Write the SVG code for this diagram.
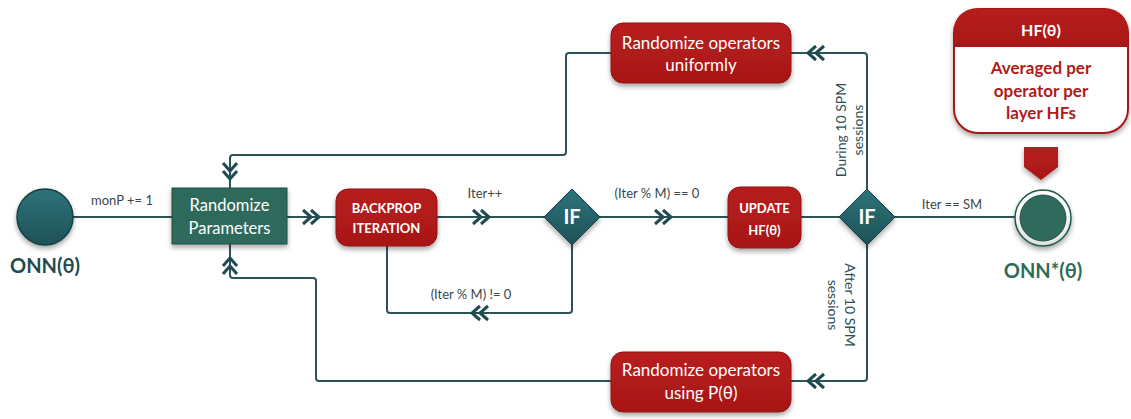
<svg xmlns="http://www.w3.org/2000/svg" xmlns:xlink="http://www.w3.org/1999/xlink" width="1131" height="419" viewBox="0 0 1131 419">
<defs>
  <filter id="sh" x="-20%" y="-20%" width="140%" height="160%">
    <feDropShadow dx="0" dy="3" stdDeviation="2.5" flood-color="#000" flood-opacity="0.35"/>
  </filter>
  <linearGradient id="gRed" x1="0" y1="0" x2="0" y2="1">
    <stop offset="0" stop-color="#b81c1c"/>
    <stop offset="1" stop-color="#a81818"/>
  </linearGradient>
  <linearGradient id="gTeal" x1="0" y1="0" x2="0" y2="1">
    <stop offset="0" stop-color="#2d7479"/>
    <stop offset="1" stop-color="#1e5157"/>
  </linearGradient>
  <radialGradient id="gRing" cx="0.5" cy="0.4" r="0.6">
    <stop offset="0.7" stop-color="#ffffff"/>
    <stop offset="1" stop-color="#d8d8d8"/>
  </radialGradient>
  <path id="chev" d="M-8,-7 L0,0 L-8,7 M0,-7 L8,0 L0,7"/>
  <style>
    .ln{fill:none;stroke:#2b5458;stroke-width:2;stroke-linejoin:round}
    .ch{fill:none;stroke:#1f4a4f;stroke-width:3}
    .lbl{font-family:Lato,"Liberation Sans",sans-serif;font-size:13px;fill:#37474c}
    .rot{font-family:Lato,"Liberation Sans",sans-serif;font-size:14px;fill:#2f4f54}
    .redbox{fill:url(#gRed);stroke:#8e1414;stroke-width:1}
    .wt{font-family:Lato,"Liberation Sans",sans-serif;fill:#ffffff;text-anchor:middle}
    .bold{font-weight:bold}
  </style>
</defs>
<rect width="1131" height="419" fill="#ffffff"/>

<g id="connectors">
  <path class="ln" d="M73,217 H172"/>
  <path class="ln" d="M287,217 H336"/>
  <path class="ln" d="M437,217 H544"/>
  <path class="ln" d="M600,217 H728"/>
  <path class="ln" d="M801,217 H840"/>
  <path class="ln" d="M894,217 H1015"/>
  <path class="ln" d="M572,245 V310 Q572,313 569,313 H390 Q387,313 387,310 V246"/>
  <path class="ln" d="M867,190 V56 Q867,53 864,53 H791"/>
  <path class="ln" d="M867,244 V378 Q867,381 864,381 H791"/>
  <path class="ln" d="M611,53 H569 Q566,53 566,56 V152 Q566,155 563,155 H233 Q230,155 230,158 V188"/>
  <path class="ln" d="M611,381 H319 Q316,381 316,378 V281 Q316,278 313,278 H233 Q230,278 230,275 V244"/>
  <use href="#chev" class="ch" transform="translate(311,217)"/>
  <use href="#chev" class="ch" transform="translate(481,217)"/>
  <use href="#chev" class="ch" transform="translate(663,217)"/>
  <use href="#chev" class="ch" transform="translate(480,313) rotate(180)"/>
  <use href="#chev" class="ch" transform="translate(816,53) rotate(180)"/>
  <use href="#chev" class="ch" transform="translate(816,381) rotate(180)"/>
  <use href="#chev" class="ch" transform="translate(230,171) rotate(90)"/>
  <use href="#chev" class="ch" transform="translate(230,266) rotate(-90)"/>
  <text class="lbl" x="122" y="205" text-anchor="middle">monP += 1</text>
  <text class="lbl" x="485" y="198" text-anchor="middle">Iter++</text>
  <text class="lbl" x="657" y="198" text-anchor="middle">(Iter % M) == 0</text>
  <text class="lbl" x="471" y="299" text-anchor="middle">(Iter % M) != 0</text>
  <text class="lbl" x="952" y="209" text-anchor="middle">Iter == SM</text>
  <text class="rot" x="846" y="130" text-anchor="middle" transform="rotate(-90 846 130)">During 10 SPM</text>
  <text class="rot" x="863" y="130" text-anchor="middle" transform="rotate(-90 863 130)">sessions</text>
  <text class="rot" x="845" y="305" text-anchor="middle" transform="rotate(90 845 305)">After 10 SPM</text>
  <text class="rot" x="828" y="305" text-anchor="middle" transform="rotate(90 828 305)">sessions</text>
</g>

<g id="start">
  <circle cx="45" cy="217" r="28" fill="url(#gTeal)" stroke="#173f44" stroke-width="1.5" filter="url(#sh)"/>
  <text x="45" y="273" text-anchor="middle" font-family="Lato,'Liberation Sans',sans-serif" font-weight="bold" font-size="20" fill="#1f4a4f">ONN(θ)</text>
</g>

<g id="randomize-parameters">
  <rect x="172" y="188" width="115" height="56" fill="#2f6a5c" stroke="#234f45" stroke-width="1" filter="url(#sh)"/>
  <text class="wt" x="229.5" y="211" font-size="16.5">Randomize</text>
  <text class="wt" x="229.5" y="234" font-size="16.5">Parameters</text>
</g>

<g id="backprop">
  <rect x="336" y="189" width="101" height="57" rx="12" class="redbox" filter="url(#sh)"/>
  <text class="wt bold" x="386.5" y="213" font-size="13">BACKPROP</text>
  <text class="wt bold" x="386.5" y="233" font-size="13">ITERATION</text>
</g>

<g id="if1">
  <polygon points="572,189 600,217 572,245 544,217" fill="url(#gTeal)" stroke="#173f44" stroke-width="1" filter="url(#sh)"/>
  <text class="wt bold" x="572" y="224" font-size="20">IF</text>
</g>

<g id="update">
  <rect x="728" y="187" width="73" height="61" rx="12" class="redbox" filter="url(#sh)"/>
  <text class="wt bold" x="764.5" y="213" font-size="13">UPDATE</text>
  <text class="wt bold" x="764.5" y="235" font-size="13">HF(θ)</text>
</g>

<g id="if2">
  <polygon points="867,189 895,217 867,245 839,217" fill="url(#gTeal)" stroke="#173f44" stroke-width="1" filter="url(#sh)"/>
  <text class="wt bold" x="867" y="224" font-size="20">IF</text>
</g>

<g id="rand-uniform">
  <rect x="611" y="23" width="180" height="60" rx="12" class="redbox" filter="url(#sh)"/>
  <text class="wt" x="701" y="49" font-size="17">Randomize operators</text>
  <text class="wt" x="701" y="71" font-size="17">uniformly</text>
</g>

<g id="rand-p">
  <rect x="611" y="352" width="180" height="60" rx="12" class="redbox" filter="url(#sh)"/>
  <text class="wt" x="701" y="376" font-size="17">Randomize operators</text>
  <text class="wt" x="701" y="399" font-size="17">using P(θ)</text>
</g>

<g id="end">
  <circle cx="1043" cy="218" r="28" fill="url(#gRing)" stroke="#1f5a4c" stroke-width="1.5" filter="url(#sh)"/>
  <circle cx="1043" cy="218" r="23" fill="#2f6a5c" stroke="#234f45" stroke-width="1"/>
  <text x="1043" y="278" text-anchor="middle" font-family="Lato,'Liberation Sans',sans-serif" font-weight="bold" font-size="20" fill="#2f6a5c">ONN*(θ)</text>
</g>

<g id="hf-callout">
  <rect x="954" y="9" width="174" height="124" rx="24" fill="#ffffff" stroke="#a81818" stroke-width="2" filter="url(#sh)"/>
  <path d="M954,47 V33 Q954,9 978,9 H1104 Q1128,9 1128,33 V47 Z" fill="url(#gRed)"/>
  <text class="wt bold" x="1041" y="36" font-size="16">HF(θ)</text>
  <text x="1041" y="74" text-anchor="middle" font-family="Lato,'Liberation Sans',sans-serif" font-weight="bold" font-size="17" fill="#b01a1a">Averaged per</text>
  <text x="1041" y="97" text-anchor="middle" font-family="Lato,'Liberation Sans',sans-serif" font-weight="bold" font-size="17" fill="#b01a1a">operator per</text>
  <text x="1041" y="119" text-anchor="middle" font-family="Lato,'Liberation Sans',sans-serif" font-weight="bold" font-size="17" fill="#b01a1a">layer HFs</text>
  <polygon points="1024,147 1058,147 1058,167 1041,180 1024,167" fill="url(#gRed)" filter="url(#sh)"/>
</g>
</svg>
